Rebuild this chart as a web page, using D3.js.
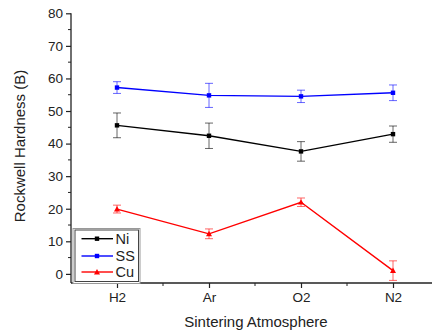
<!DOCTYPE html>
<html>
<head>
<meta charset="utf-8">
<script src="https://cdn.jsdelivr.net/npm/d3@7"></script>
<style>
  html, body { margin: 0; padding: 0; background: #fff; }
  svg { display: block; font-family: "Liberation Sans", Arial, sans-serif; }
</style>
</head>
<body>
<svg id="chart" width="432" height="336"></svg>
<script>
// Sintering atmospheres on the x axis
const categories = ["H2", "Ar", "O2", "N2"];

// Rockwell hardness (B) per powder, with standard deviations
const niValues = [45.6, 42.4, 37.6, 42.9];
const niErrors = [3.8, 3.9, 3.0, 2.5];
const ssValues = [57.2, 54.8, 54.5, 55.6];
const ssErrors = [1.8, 3.7, 1.9, 2.4];
const cuValues = [19.9, 12.3, 22.0, 1.0];
const cuErrors = [1.2, 1.5, 1.3, 3.0];

const yTicks = [0, 10, 20, 30, 40, 50, 60, 70, 80];

const series = [
  { name: "Ni", color: "#000000", marker: "square", values: niValues, errors: niErrors },
  { name: "SS", color: "#0000ff", marker: "square", values: ssValues, errors: ssErrors },
  { name: "Cu", color: "#ff0000", marker: "triangle", values: cuValues, errors: cuErrors }
];

const svg = d3.select("#chart");

const x = d3.scaleLinear().domain([0.5, 4.5]).range([71, 439]);
const y = d3.scaleLinear().domain([-2.8, 80]).range([283, 13.3]);

const axisColor = "#222";
const font = "'Liberation Sans', Arial, sans-serif";

// Y axis: major ticks every 10, minor every 5
const yAxis = svg.append("g").attr("transform", "translate(71,0)");
yAxis.append("line").attr("x1", 0).attr("x2", 0).attr("y1", y(80)).attr("y2", 283)
  .attr("stroke", axisColor).attr("stroke-width", 1.3);
yAxis.selectAll(".minor").data(d3.range(5, 80, 10)).join("line")
  .attr("x1", -3).attr("x2", 0).attr("y1", d => y(d)).attr("y2", d => y(d))
  .attr("stroke", axisColor).attr("stroke-width", 1);
const yt = d3.axisLeft(y).tickValues(yTicks).tickSize(5).tickPadding(3).tickFormat(d3.format("d"));
const yg = svg.append("g").attr("transform", "translate(71,0)").call(yt);
yg.select(".domain").remove();
yg.selectAll(".tick line").attr("stroke", axisColor).attr("stroke-width", 1.2);
yg.selectAll(".tick text").attr("fill", "#222").style("font-size", "13.5px").style("font-family", font);

// X axis: categories on major ticks, minor ticks in between
svg.append("line").attr("x1", 71).attr("x2", 432).attr("y1", 283).attr("y2", 283)
  .attr("stroke", axisColor).attr("stroke-width", 1.3);
svg.selectAll(".xminor").data([1.5, 2.5, 3.5]).join("line")
  .attr("x1", d => x(d)).attr("x2", d => x(d)).attr("y1", 283).attr("y2", 286)
  .attr("stroke", axisColor).attr("stroke-width", 1);
const xt = d3.axisBottom(x).tickValues([1, 2, 3, 4]).tickSize(5).tickPadding(4)
  .tickFormat(d => categories[d - 1]);
const xg = svg.append("g").attr("transform", "translate(0,283)").call(xt);
xg.select(".domain").remove();
xg.selectAll(".tick line").attr("stroke", axisColor).attr("stroke-width", 1.2);
xg.selectAll(".tick text").attr("fill", "#222").style("font-size", "13.5px").style("font-family", font);

// Axis titles
svg.append("text").attr("x", 256).attr("y", 327).attr("text-anchor", "middle")
  .attr("fill", "#222").style("font-size", "15px").text("Sintering Atmosphere");
svg.append("text").attr("transform", "translate(25,146) rotate(-90)").attr("text-anchor", "middle")
  .attr("fill", "#222").style("font-size", "15px").text("Rockwell Hardness (B)");

function drawMarker(g, type, cx, cy, color) {
  if (type === "square") {
    g.append("rect").attr("x", cx - 2.2).attr("y", cy - 2.2).attr("width", 4.4).attr("height", 4.4)
      .attr("fill", color);
  } else {
    const s = 3;
    g.append("path").attr("d", `M${cx},${cy - s}L${cx + s},${cy + s * 0.8}L${cx - s},${cy + s * 0.8}Z`)
      .attr("fill", color);
  }
}

// Series: error bars, connecting lines, markers
const plot = svg.append("g");
series.forEach(s => {
  const pts = s.values.map((v, i) => ({ i: i + 1, v, e: s.errors[i] }));
  const eg = plot.append("g").attr("stroke", s.color).attr("stroke-opacity", 0.6).attr("stroke-width", 1);
  pts.forEach(p => {
    const cx = x(p.i);
    eg.append("line").attr("x1", cx).attr("x2", cx).attr("y1", y(p.v + p.e)).attr("y2", y(p.v - p.e));
    eg.append("line").attr("x1", cx - 4).attr("x2", cx + 4).attr("y1", y(p.v + p.e)).attr("y2", y(p.v + p.e));
    eg.append("line").attr("x1", cx - 4).attr("x2", cx + 4).attr("y1", y(p.v - p.e)).attr("y2", y(p.v - p.e));
  });
  plot.append("path").datum(pts)
    .attr("d", d3.line().x(p => x(p.i)).y(p => y(p.v)))
    .attr("fill", "none").attr("stroke", s.color).attr("stroke-width", 1.4);
  const mg = plot.append("g");
  pts.forEach(p => drawMarker(mg, s.marker, x(p.i), y(p.v), s.color));
});

// Legend
const legend = svg.append("g");
legend.append("rect").attr("x", 73).attr("y", 228.5).attr("width", 67).attr("height", 55)
  .attr("fill", "#fff").attr("stroke", "#999").attr("stroke-width", 1);
legend.append("rect").attr("x", 75).attr("y", 230).attr("width", 63.5).attr("height", 51.5)
  .attr("fill", "none").attr("stroke", "#444").attr("stroke-width", 1);
const legendY = [238.7, 256, 272];
series.forEach((s, k) => {
  const ly = legendY[k];
  legend.append("line").attr("x1", 81.5).attr("x2", 113).attr("y1", ly).attr("y2", ly)
    .attr("stroke", s.color).attr("stroke-width", 1.4);
  drawMarker(legend, s.marker, 97, ly, s.color);
  legend.append("text").attr("x", 115.5).attr("y", ly + 5).attr("fill", "#222")
    .style("font-size", "14.5px").text(s.name);
});
</script>
</body>
</html>
